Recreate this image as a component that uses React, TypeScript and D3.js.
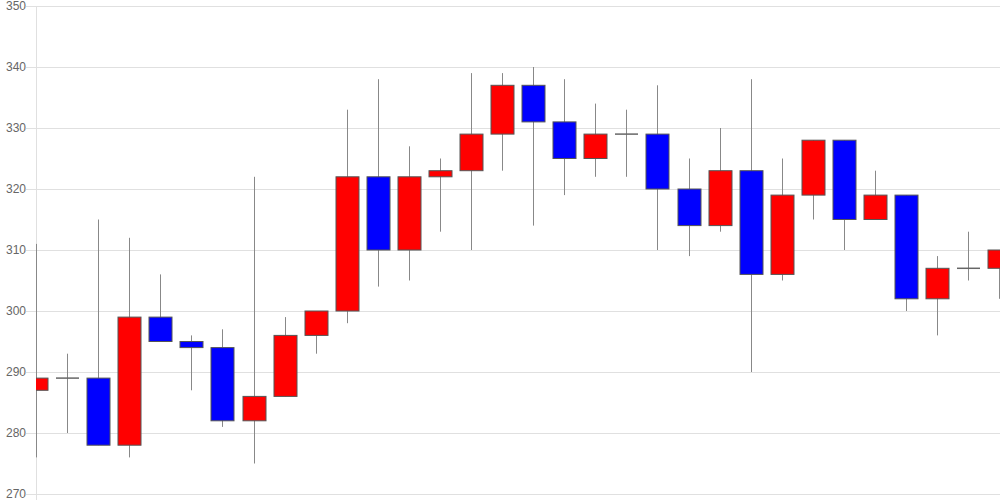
import React from "react";
import * as d3 from "d3";

const opens = [287, 289, 289, 278, 299, 295, 294, 282, 286, 296, 300, 322, 310, 322, 323, 329, 337, 331, 325, 329, 329, 320, 314, 323, 306, 319, 328, 315, 319, 302, 307, 307];
const closes = [289, 289, 278, 299, 295, 294, 282, 286, 296, 300, 322, 310, 322, 323, 329, 337, 331, 325, 329, 329, 320, 314, 323, 306, 319, 328, 315, 319, 302, 307, 307, 310];
const highs = [311, 293, 315, 312, 306, 296, 297, 322, 299, 300, 333, 338, 327, 325, 339, 339, 340, 338, 334, 333, 337, 325, 330, 338, 325, 328, 328, 323, 319, 309, 313, 310];
const lows = [276, 280, 278, 276, 295, 287, 281, 275, 286, 293, 298, 304, 305, 313, 310, 323, 314, 319, 322, 322, 310, 309, 313, 290, 305, 315, 310, 315, 300, 296, 305, 302];
const yTicks = [270, 280, 290, 300, 310, 320, 330, 340, 350];

const W = 1000;
const H = 500;
const left = 36;
const right = 1000;
const top = 6;
const bottom = 494;

export default function App() {
  const x = d3.scaleLinear().domain([0, opens.length - 1]).range([36, 999.3]);
  const y = d3.scaleLinear().domain([270, 350]).range([bottom, top]);
  const bw = 23;
  return (
    <svg width={W} height={H} style={{ position: "absolute", left: 0, top: 0 }}>
      <defs>
        <clipPath id="plot">
          <rect x={left} y={0} width={right - left} height={H} />
        </clipPath>
      </defs>
      {yTicks.map((t) => (
        <g key={t}>
          <line x1={26} x2={right} y1={y(t) + 0.5} y2={y(t) + 0.5} stroke="#e0e0e0" strokeWidth={1} />
          <text
            x={26}
            y={y(t)}
            textAnchor="end"
            dominantBaseline="central"
            fontFamily="Arial, 'Liberation Sans', sans-serif"
            fontSize={12}
            fill="#666"
          >
            {t}
          </text>
        </g>
      ))}
      <line x1={left + 0.5} x2={left + 0.5} y1={top} y2={bottom + 6} stroke="#e0e0e0" strokeWidth={1} />
      <g clipPath="url(#plot)">
        {opens.map((o, i) => {
          const c = closes[i];
          const cx = Math.round(x(i)) + 0.5;
          const up = c > o;
          const doji = c === o;
          const yTop = y(Math.max(o, c));
          const yBot = y(Math.min(o, c));
          return (
            <g key={i}>
              <line x1={cx} x2={cx} y1={y(highs[i])} y2={y(lows[i])} stroke="#888" strokeWidth={1} />
              {doji ? (
                <line x1={cx - bw / 2} x2={cx + bw / 2} y1={yTop} y2={yTop} stroke="#666" strokeWidth={1.5} />
              ) : (
                <rect
                  x={cx - bw / 2}
                  y={yTop}
                  width={bw}
                  height={yBot - yTop}
                  fill={up ? "#ff0000" : "#0000ff"}
                  stroke="#555"
                  strokeWidth={1}
                />
              )}
            </g>
          );
        })}
      </g>
    </svg>
  );
}
